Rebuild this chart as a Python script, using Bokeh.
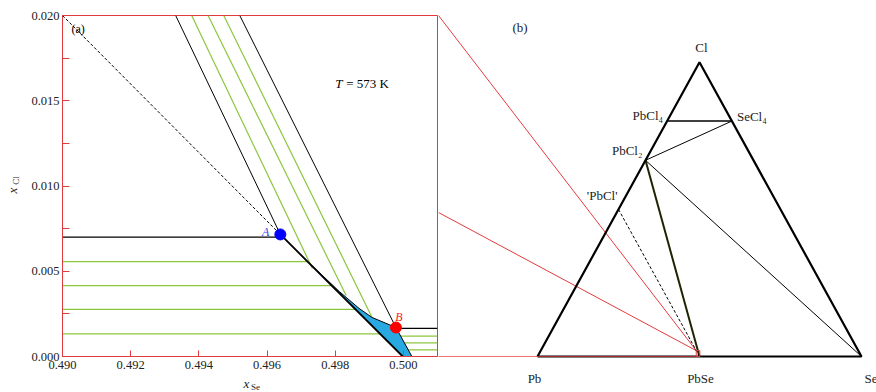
import math
from bokeh.plotting import figure
from bokeh.layouts import row
from bokeh.models import Range1d, FixedTicker, CustomJSTickFormatter
from bokeh.core.properties import value
from bokeh.embed import file_html
from bokeh.resources import INLINE

SERIF = "Liberation Serif"
RED = "#e23b3f"
GREEN = "#8cc63f"
BLUE_FILL = "#29a9e1"

# ---------------- panel (a) data : x_Se vs x_Cl ----------------
xse_ticks = [0.490, 0.492, 0.494, 0.496, 0.498, 0.500]
xcl_ticks = [0.000, 0.005, 0.010, 0.015, 0.020]
xcl_minor = [0.0025, 0.0075, 0.0125, 0.0175]

A_xse, A_xcl = 0.49639, 0.00716
B_xse, B_xcl = 0.49978, 0.00170

dash_xse = [0.490, 0.49639]
dash_xcl = [0.020, 0.00716]

diag_black_xse = [[0.49332, 0.49639], [0.49520, 0.49978]]
diag_black_xcl = [[0.020, 0.00716], [0.020, 0.00170]]
diag_green_xse = [[0.49379, 0.49733], [0.49427, 0.49832], [0.49473, 0.49908]]
diag_green_xcl = [[0.020, 0.00516], [0.020, 0.00358], [0.020, 0.00229]]

tieA_xse = [0.490, 0.49639]
tieA_xcl = [0.00700, 0.00700]
tieB_xse = [0.49978, 0.501]
tieB_xcl = [0.00165, 0.00165]

green_left_xcl = [0.00557, 0.00416, 0.00276, 0.00133]
green_left_end = [0.49719, 0.49789, 0.49860, 0.49931]
green_right_xcl = [0.00119, 0.00080, 0.00039]
green_right_start = [0.49993, 0.50003, 0.50014]

bound_xse = [0.49639, 0.49998]
bound_xcl = [0.00716, 0.0]

region_xse = [0.49710, 0.49812, 0.49870, 0.49908, 0.49978, 0.50025, 0.49998]
region_xcl = [0.00574, 0.00381, 0.00282, 0.00229, 0.00170, 0.0, 0.0]

XSE_MIN, XSE_MAX = 0.490, 0.501
XCL_MIN, XCL_MAX = 0.0, 0.020

# ---------------- panel (b) data : compositions (x_Se, x_Cl) ----------------
comp_names = ["Cl", "PbCl\u2084", "SeCl\u2084", "PbCl\u2082", "'PbCl'", "Pb", "PbSe", "Se"]
comp_xse = [0.0, 0.0, 0.2, 0.0, 0.0, 0.0, 0.5, 1.0]
comp_xcl = [1.0, 0.8, 0.8, 2 / 3, 0.5, 0.0, 0.0, 0.0]

tri_xse = [0.0, 1.0, 0.0, 0.0]   # Pb -> Se -> Cl -> Pb
tri_xcl = [0.0, 0.0, 1.0, 0.0]


def tern(xse, xcl):
    return [a + 0.5 * b for a, b in zip(xse, xcl)], list(xcl)


# ---------------- layout constants (page pixels) ----------------
H = 392
FRAME_TOP, FRAME_BOTTOM = 15, 356

# ---------------- figure (a) ----------------
pa = figure(width=438, height=H, output_backend="svg", toolbar_location=None,
            x_range=Range1d(XSE_MIN, XSE_MAX), y_range=Range1d(XCL_MIN, XCL_MAX),
            min_border_left=62, min_border_right=1, min_border_top=FRAME_TOP,
            min_border_bottom=H - FRAME_BOTTOM)
pa.grid.visible = False
pa.outline_line_color = RED
pa.outline_line_width = 1
pa.background_fill_color = "white"
pa.border_fill_color = "white"

for ax in (pa.xaxis[0], pa.yaxis[0]):
    ax.axis_line_color = RED
    ax.major_tick_line_color = RED
    ax.minor_tick_line_color = RED
    ax.major_tick_out = 0
    ax.minor_tick_out = 0
    ax.major_label_text_font = SERIF
    ax.major_label_text_font_size = "12.5px"
    ax.major_label_text_color = "#222222"
    ax.formatter = CustomJSTickFormatter(code="return tick.toFixed(3);")
pa.xaxis[0].ticker = FixedTicker(ticks=xse_ticks)
pa.xaxis[0].major_tick_in = 6
pa.xaxis[0].minor_tick_line_color = None
pa.xaxis[0].major_label_standoff = 4
pa.yaxis[0].ticker = FixedTicker(ticks=xcl_ticks, minor_ticks=xcl_minor)
pa.yaxis[0].major_tick_in = 7
pa.yaxis[0].minor_tick_in = 7
pa.yaxis[0].major_label_standoff = 3

# green tie lines
pa.multi_line(xs=[[XSE_MIN, e] for e in green_left_end], ys=[[y, y] for y in green_left_xcl],
              line_color=GREEN, line_width=1.2)
pa.multi_line(xs=[[s, XSE_MAX] for s in green_right_start], ys=[[y, y] for y in green_right_xcl],
              line_color=GREEN, line_width=1.2)
pa.multi_line(xs=diag_green_xse, ys=diag_green_xcl, line_color=GREEN, line_width=1.2)

# three-phase region
pa.patch(region_xse, region_xcl, fill_color=BLUE_FILL, line_color="black", line_width=1)

# black lines
pa.multi_line(xs=diag_black_xse, ys=diag_black_xcl, line_color="black", line_width=1)
pa.line(tieA_xse, tieA_xcl, line_color="black", line_width=1.3)
pa.line(tieB_xse, tieB_xcl, line_color="black", line_width=1.3)
pa.line(bound_xse, bound_xcl, line_color="black", line_width=1.8)
pa.line(dash_xse, dash_xcl, line_color="black", line_width=1, line_dash="3 2")

pa.scatter([A_xse], [A_xcl], size=11, fill_color="#0000ff", line_color="#0000ff")
pa.scatter([B_xse], [B_xcl], size=11, fill_color="#ff0000", line_color="#ff0000")


def txt(p, x, y, s, size="13px", dx=0, dy=0, align="center", italic=False, angle=0.0,
        color="#222222", level="glyph"):
    p.text([x], [y], text=[s], x_offset=dx, y_offset=dy, text_align=align, text_baseline="middle",
           angle=angle, text_font=value(SERIF), text_font_style="italic" if italic else "normal",
           text_font_size=size, text_color=color, level=level)


txt(pa, A_xse, A_xcl, "A", "12px", dx=-11, dy=-2, align="right", italic=True, color="#3344ee")
txt(pa, B_xse, B_xcl, "B", "12px", dx=3, dy=-11, italic=True, color="#ff2020")
txt(pa, XSE_MIN, XCL_MAX, "(a)", "12px", dx=9, dy=13, align="left", color="black")
txt(pa, 0.498, 0.016, "T", italic=True, align="left", color="black")
txt(pa, 0.498, 0.016, "= 573 K", dx=11, align="left", color="black")

# axis titles: unclipped overlay texts anchored at the frame's bottom-left corner
txt(pa, XSE_MIN, XCL_MIN, "x", "13px", dx=-50, dy=-166, italic=True, angle=math.pi / 2, level="overlay")
txt(pa, XSE_MIN, XCL_MIN, "Cl", "9px", dx=-47, dy=-176, angle=math.pi / 2, level="overlay")
txt(pa, XSE_MIN, XCL_MIN, "x", "13px", dx=184, dy=27, italic=True, level="overlay")
txt(pa, XSE_MIN, XCL_MIN, "Se", "9px", dx=193, dy=30, level="overlay")

# ---------------- figure (b) ----------------
PX_PER_X = 324.0
PX_PER_Y = 294.3
WB = 438

pb = figure(width=WB, height=H, output_backend="svg", toolbar_location=None, min_border=0)
if "frame_align" in pb.properties():
    pb.frame_align = False
    FT_B, FB_B, PB_Y = 0, H, 356
else:
    pb.min_border_top = FRAME_TOP
    pb.min_border_bottom = H - FRAME_BOTTOM
    FT_B, FB_B, PB_Y = FRAME_TOP, FRAME_BOTTOM, 355
PB_X = 537          # page position of the Pb corner
X0 = (438 - PB_X) / PX_PER_X
X1 = X0 + WB / PX_PER_X
Y0 = (PB_Y - FB_B) / PX_PER_Y
Y1 = (PB_Y - FT_B) / PX_PER_Y
pb.x_range = Range1d(X0, X1)
pb.y_range = Range1d(Y0, Y1)
pb.axis.visible = False
pb.grid.visible = False
pb.outline_line_color = None
pb.background_fill_color = "white"
pb.border_fill_color = "white"


def page_y_to_Y(py):
    return (PB_Y - py) / PX_PER_Y


# red connectors (zoom indicator)
pb.multi_line(xs=[[X0, XSE_MIN], [X0, XSE_MIN]],
              ys=[[page_y_to_Y(15), XCL_MAX], [page_y_to_Y(212), XCL_MAX]],
              line_color=RED, line_width=1)

# triangle
tx, ty = tern(tri_xse, tri_xcl)
pb.line(tx, ty, line_color="black", line_width=2.2, level="overlay")

pb.line([X0, XSE_MAX], [0, 0], line_color=RED, line_width=1.2, line_alpha=0.7, level="overlay")
pb.quad(left=[XSE_MIN], right=[XSE_MAX], bottom=[XCL_MIN], top=[XCL_MAX],
        fill_color=None, line_color=RED, line_width=1, level="overlay")

idx = {n: k for k, n in enumerate(comp_names)}


def cpos(name):
    k = idx[name]
    return comp_xse[k] + 0.5 * comp_xcl[k], comp_xcl[k]


def seg(a, b, **kw):
    p1, p2 = cpos(a), cpos(b)
    pb.line([p1[0], p2[0]], [p1[1], p2[1]], **kw)


seg("PbCl\u2084", "SeCl\u2084", line_color="black", line_width=1.5)
seg("PbCl\u2082", "SeCl\u2084", line_color="black", line_width=1)
seg("PbCl\u2082", "Se", line_color="black", line_width=1)
seg("PbCl\u2082", "PbSe", line_color="#1e2400", line_width=2)
seg("'PbCl'", "PbSe", line_color="black", line_width=1, line_dash="3 2")

offs = {
    "Cl": (2, -15, "center"),
    "PbCl\u2084": (-4, -6, "right"),
    "SeCl\u2084": (5, -5, "left"),
    "PbCl\u2082": (-3, -10, "right"),
    "'PbCl'": (-1, -14, "right"),
    "Pb": (-3, 22, "center"),
    "PbSe": (1, 22, "center"),
    "Se": (3, 22, "left"),
}
for n in comp_names:
    x, y = cpos(n)
    dx, dy, al = offs[n]
    txt(pb, x, y, n, "13px", dx=dx, dy=dy, align=al, level="overlay")

txt(pb, X0, page_y_to_Y(27), "(b)", "13px", dx=74, align="left", level="overlay")

layout = row(pa, pb)
open("out.html", "w").write(file_html(layout, INLINE))
